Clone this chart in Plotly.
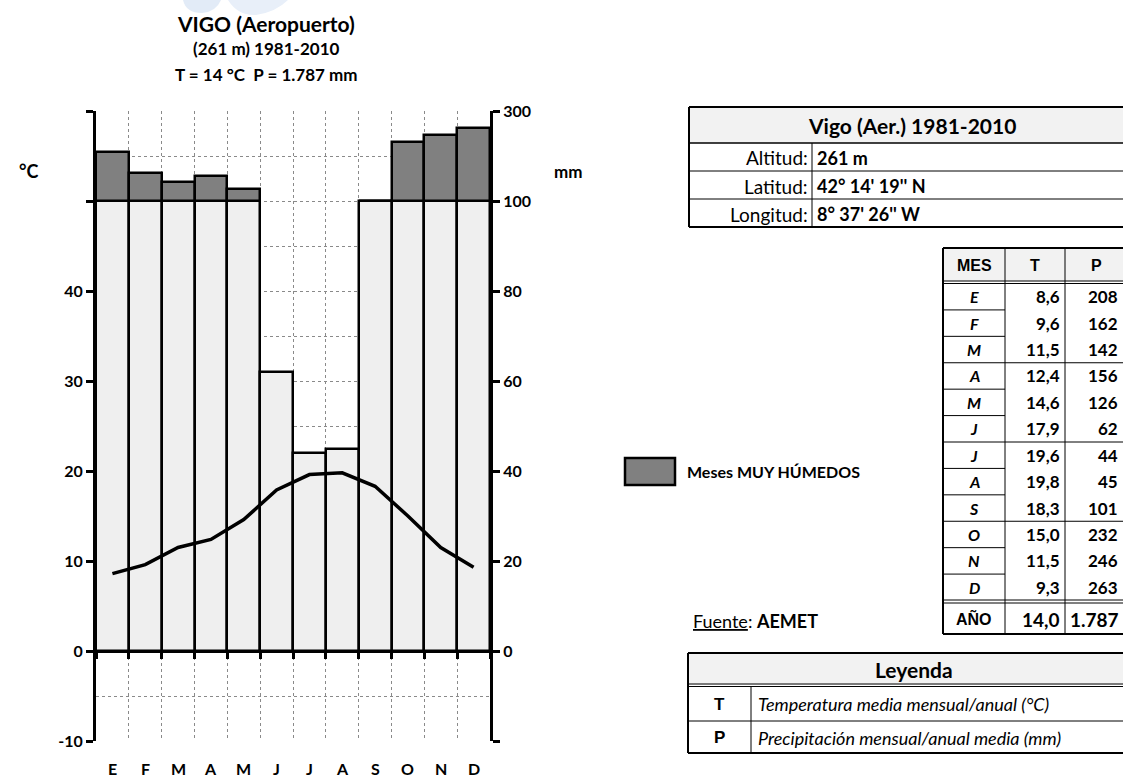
import plotly.graph_objects as go

# ---------------- data ----------------
months = ['E', 'F', 'M', 'A', 'M', 'J', 'J', 'A', 'S', 'O', 'N', 'D']
temp = [8.6, 9.6, 11.5, 12.4, 14.6, 17.9, 19.6, 19.8, 18.3, 15.0, 11.5, 9.3]
prec = [208, 162, 142, 156, 126, 62, 44, 45, 101, 232, 246, 263]
t_year = 14.0
p_year = 1787
left_tickvals = [-10, 0, 10, 20, 30, 40, 50, 60]
left_ticktext = ['-10', '0', '10', '20', '30', '40', '', '']
right_ticktext = ['', '0', '20', '40', '60', '80', '100', '300']
title_lines = ['VIGO (Aeropuerto)', '(261 m) 1981-2010', 'T = 14 °C&nbsp; P = 1.787 mm']
info_title = 'Vigo (Aer.) 1981-2010'
info_labels = ['Altitud:', 'Latitud:', 'Longitud:']
info_values = ['261 m', "42° 14' 19'' N", "8° 37' 26'' W"]
legend_keys = ['T', 'P']
legend_desc = ['Temperatura media mensual/anual (°C)', 'Precipitación mensual/anual media (mm)']

# ---------------- derived ----------------
xc = [i + 0.5 for i in range(12)]
lower = [min(p, 100) / 2 for p in prec]            # 0-100 mm -> 0-50 (2 mm = 1 °C)
upper = [(p - 100) / 20 if p > 100 else None for p in prec]  # >100 mm compressed 1:10

W, H = 1123, 778
ML, MR, MT, MB = 96, 633, 111, 37
PW, PH = W - ML - MR, H - MT - MB


def px(x):
    return (x - ML) / PW


def py(y):
    return (H - MB - y) / PH


CAL = 'Lato'
ARI = 'Liberation Sans'

fig = go.Figure()
fig.add_trace(go.Bar(x=xc, y=lower, base=0, width=1,
                     marker=dict(color='#efefef', line=dict(color='black', width=2.5)),
                     showlegend=False, hoverinfo='skip'))
fig.add_trace(go.Bar(x=xc, y=upper, base=50, width=1,
                     marker=dict(color='#808080', line=dict(color='black', width=2.5)),
                     showlegend=False, hoverinfo='skip'))
fig.add_trace(go.Scatter(x=xc, y=temp, mode='lines',
                         line=dict(color='black', width=3.5),
                         showlegend=False, hoverinfo='skip'))
# invisible trace on right axis so it renders
fig.add_trace(go.Scatter(x=[0], y=[0], yaxis='y2', mode='markers',
                         marker=dict(opacity=0), showlegend=False, hoverinfo='skip'))

shapes = []
ann = []


def P(x, y):
    return f'{px(x):.5f},{py(y):.5f}'


def line(x0, y0, x1, y1, w=1, color='black'):
    shapes.append(dict(type='line', xref='paper', yref='paper',
                       x0=px(x0), y0=py(y0), x1=px(x1), y1=py(y1),
                       line=dict(color=color, width=w)))


def rect(x0, y0, x1, y1, fill, w=0, color='black'):
    shapes.append(dict(type='rect', xref='paper', yref='paper',
                       x0=px(x0), y0=py(y0), x1=px(x1), y1=py(y1),
                       fillcolor=fill, line=dict(color=color, width=w), layer='below'))


def text(x, y, s, size=15, family=CAL, weight='normal', style='normal', anchor='center'):
    ann.append(dict(xref='paper', yref='paper', x=px(x), y=py(y), text=s,
                    showarrow=False, xanchor=anchor, yanchor='middle',
                    font=dict(family=family, size=size, color='black', weight=weight, style=style)))


# faint watermark remnant at the top (logo)
shapes.append(dict(type='path', xref='paper', yref='paper', layer='above',
                   path=f'M {P(183, 0)} Q {P(186, 13)} {P(202, 13)} Q {P(216, 12)} {P(221, 0)} Z',
                   fillcolor='#e2ebf7', line=dict(width=0)))
shapes.append(dict(type='path', xref='paper', yref='paper', layer='above',
                   path=f'M {P(228, 0)} Q {P(238, 16)} {P(256, 15)} Q {P(276, 12)} {P(288, 0)} Z',
                   fillcolor='#e8eff9', line=dict(width=0)))

# titles
text(266, 23, title_lines[0], size=21, weight='bold')
text(266, 49, title_lines[1], size=17, weight='bold')
text(266, 74, title_lines[2], size=17, weight='bold')
text(28, 171, '°C', size=18, weight='bold')
text(568, 171, 'mm', size=17, weight='bold')

# month labels
for i, m in enumerate(months):
    ann.append(dict(xref='x', yref='paper', x=xc[i], y=py(768), text=m, showarrow=False,
                    xanchor='center', yanchor='middle',
                    font=dict(family=CAL, size=16, color='black', weight='bold')))

# ---- info table ----
RX = 1145
rect(689, 107, RX, 143, '#f2f2f2')
line(689, 107, RX, 107, 2)
line(689, 143, RX, 143, 1.5)
line(689, 171, RX, 171, 1)
line(689, 199, RX, 199, 1)
line(689, 227, RX, 227, 2)
line(689, 107, 689, 227, 2)
line(812, 143, 812, 227, 1)
text(912, 125, info_title, size=21, weight='bold')
for k in range(3):
    yc = 158 + k * 28
    text(810, yc, info_labels[k], size=19, anchor='right')
    text(815, yc, info_values[k], size=18, weight='bold', anchor='left')

# ---- monthly table ----
TL, C1, C2 = 943, 1005, 1065
top, hb = 248, 281
rowh = (600 - 283) / 12
rect(TL, top, RX, hb, '#f2f2f2')
line(TL, top, RX, top, 2)
line(TL, hb, RX, hb, 1)
line(TL, hb + 2.5, RX, hb + 2.5, 1)
line(TL, 600, RX, 600, 1)
line(TL, 603, RX, 603, 1)
line(TL, 634, RX, 634, 2)
line(TL, top, TL, 634, 2)
line(C1, top, C1, 634, 1)
line(C2, top, C2, 634, 1)
text((TL + C1) / 2, 265, 'MES', size=16, family=ARI, weight='bold')
text((C1 + C2) / 2, 265, 'T', size=16, family=ARI, weight='bold')
text(1096, 265, 'P', size=16, family=ARI, weight='bold')
for i in range(12):
    y0 = 283.5 + i * rowh
    yc = y0 + rowh / 2
    if i < 11:
        if (i + 1) % 3 == 0:
            line(TL, y0 + rowh, RX, y0 + rowh, 1)
        else:
            line(TL, y0 + rowh, C1, y0 + rowh, 1)
    text((TL + C1) / 2, yc, months[i], size=16, weight='bold', style='italic')
    text(C2 - 3, yc, f'{temp[i]:.1f}'.replace('.', ','), size=17, weight='bold', anchor='right')
    text(1120, yc, str(prec[i]), size=17, weight='bold', anchor='right')
text((TL + C1) / 2, 618, 'AÑO', size=16, family=ARI, weight='bold')
text(C2 - 3, 619, f'{t_year:.1f}'.replace('.', ','), size=19, weight='bold', anchor='right')
p_year_txt = f'{p_year:,}'.replace(',', '.')
text(1121, 619, p_year_txt, size=19, weight='bold', anchor='right')

# ---- legend (wet months) ----
shapes.append(dict(type='rect', xref='paper', yref='paper',
                   x0=px(625), y0=py(458), x1=px(675), y1=py(485),
                   fillcolor='#808080', line=dict(color='black', width=2.5)))
text(685, 471, 'Meses MUY HÚMEDOS', size=16, weight='bold', anchor='left')
text(691, 621, '<u>Fuente</u>: <b>AEMET</b>', size=18, anchor='left')

# ---- Leyenda table ----
rect(688, 653, RX, 685, '#f2f2f2')
line(688, 653, RX, 653, 2)
line(688, 684, RX, 684, 1)
line(688, 686.5, RX, 686.5, 1)
line(688, 721, RX, 721, 1)
line(688, 753, RX, 753, 2)
line(688, 653, 688, 753, 2)
line(751, 686, 751, 753, 1)
text(914, 669, 'Leyenda', size=21, weight='bold')
for k in range(2):
    yc = 704 + k * 33.5
    text(719, yc, legend_keys[k], size=17, family=ARI, weight='bold')
    text(756, yc, legend_desc[k], size=18, style='italic', anchor='left')

tickfont = dict(family=CAL, size=16, color='black', weight='bold')
fig.update_layout(
    width=W, height=H,
    margin=dict(l=ML, r=MR, t=MT, b=MB, pad=0),
    paper_bgcolor='white', plot_bgcolor='white',
    barmode='overlay', bargap=0,
    shapes=shapes, annotations=ann,
    xaxis=dict(range=[0, 12], tickvals=list(range(13)), showticklabels=False,
               ticks='outside', ticklen=6, tickwidth=3, tickcolor='black',
               showline=True, linewidth=3, linecolor='black',
               anchor='free', position=10 / 70,
               showgrid=True, gridcolor='#8a8a8a', gridwidth=1, griddash='dot',
               zeroline=False, fixedrange=True),
    yaxis=dict(range=[-10, 60], tickvals=left_tickvals, ticktext=left_ticktext,
               ticks='outside', ticklen=7, tickwidth=3, tickcolor='black',
               showline=True, linewidth=3, linecolor='black', tickfont=tickfont,
               showgrid=True, gridcolor='#8a8a8a', gridwidth=1, griddash='dot',
               minor=dict(dtick=5, tick0=0, showgrid=True, gridcolor='#8a8a8a',
                          gridwidth=1, griddash='dot', ticks=''),
               zeroline=False, fixedrange=True),
    yaxis2=dict(range=[-10, 60], tickvals=left_tickvals, ticktext=right_ticktext,
                overlaying='y', side='right',
                ticks='outside', ticklen=7, tickwidth=3, tickcolor='black',
                showline=True, linewidth=3, linecolor='black', tickfont=tickfont,
                showgrid=False, zeroline=False, fixedrange=True),
)

fig.write_html('out.html', config={'displayModeBar': False},
               post_script="document.body.style.margin='0';document.body.style.overflow='hidden';")
